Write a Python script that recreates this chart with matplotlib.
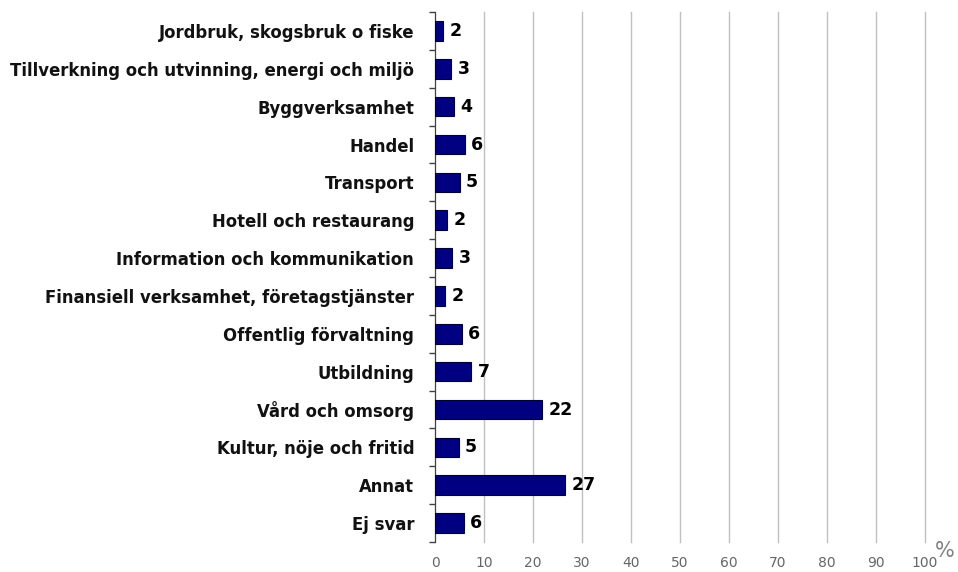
import matplotlib.pyplot as plt
import numpy as np

NAVY = '#000080'; GRID = '#C0C0C0'; GREY = '#666666'

categories = ['Jordbruk, skogsbruk o fiske',
              'Tillverkning och utvinning, energi och miljö',
              'Byggverksamhet', 'Handel', 'Transport',
              'Hotell och restaurang', 'Information och kommunikation',
              'Finansiell verksamhet, företagstjänster',
              'Offentlig förvaltning', 'Utbildning', 'Vård och omsorg',
              'Kultur, nöje och fritid', 'Annat', 'Ej svar']
values = [1.7, 3.3, 3.9, 6.1, 5.0, 2.4, 3.5, 2.1, 5.5, 7.4, 21.9, 4.8, 26.6, 5.9]
value_labels = ['2', '3', '4', '6', '5', '2', '3', '2', '6', '7', '22', '5', '27', '6']
xticks = list(range(0, 101, 10))

fig = plt.figure(figsize=(9.58, 5.72), dpi=100, facecolor='white')
ax = fig.add_axes([435/958, 1 - 542/572, 490/958, 530/572])

y = np.arange(len(categories))
ax.barh(y, values, height=0.52, color=NAVY, edgecolor='#000033', linewidth=0.8, zorder=3)
for yi, v, lab in zip(y, values, value_labels):
    ax.text(v + 1.3, yi, lab, va='center', ha='left', fontsize=12.5,
            fontweight='bold', color='black', zorder=4)

ax.set_xlim(0, 100)
ax.set_ylim(len(categories) - 0.5, -0.5)
ax.set_xticks(xticks)
ax.set_xticklabels([str(t) for t in xticks], fontsize=10, color=GREY)
ax.tick_params(axis='x', length=0, pad=10)
ax.xaxis.grid(True, color=GRID, lw=1, clip_on=False)
ax.set_axisbelow(True)

ax.set_yticks(y)
ax.set_yticklabels(categories, fontsize=11.9, fontweight='bold', color='#111111')
ax.set_yticks(np.arange(-0.5, len(categories)), minor=True)
ax.tick_params(axis='y', which='major', length=0, pad=15)
ax.tick_params(axis='y', which='minor', length=4, color='#404040', width=1)

for sp in ['top', 'right', 'bottom']:
    ax.spines[sp].set_visible(False)
ax.spines['left'].set_color('#404040')

fig.text(935/958, 1 - 551/572, '%', fontsize=15, color='#808080', ha='left', va='center')

fig.savefig('out.png', dpi=100, facecolor='white')
